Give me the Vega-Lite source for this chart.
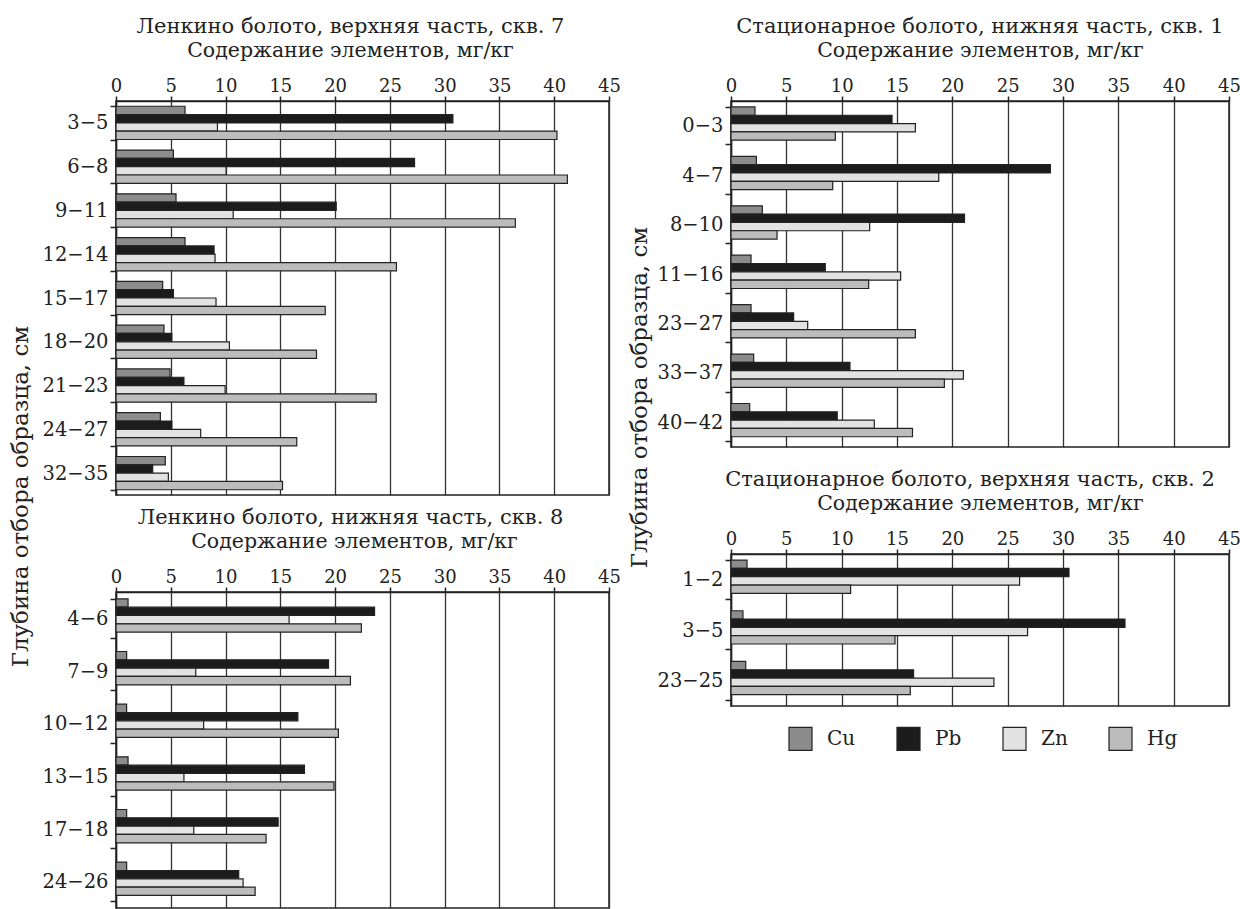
{
  "$schema": "https://vega.github.io/schema/vega-lite/v6.json",
  "padding": {"left": 8, "top": 15, "right": 0, "bottom": 0},
  "background": "white",
  "config": {
    "font": "DejaVu Serif",
    "view": {"stroke": "#222", "strokeWidth": 1.5},
    "axis": {"labelFont": "DejaVu Serif", "titleFont": "DejaVu Serif", "labelFontSize": 18, "titleFontSize": 20.5, "titleFontWeight": "normal", "labelColor": "#222", "titleColor": "#222", "domainColor": "#222", "tickColor": "#222", "gridColor": "#333", "domainWidth": 1.5, "tickWidth": 1.5, "gridWidth": 1.3, "gridOpacity": 1},
    "axisY": {"labelFontSize": 19.5, "titleFontSize": 23},
    "title": {"font": "DejaVu Serif", "fontSize": 21, "fontWeight": "normal", "color": "#222", "offset": 3}
  },
  "datasets": {
    "d": [
      {"p":"TL","d":"3−5","e":"Cu","v":6.3},{"p":"TL","d":"3−5","e":"Pb","v":30.75},{"p":"TL","d":"3−5","e":"Zn","v":9.26},{"p":"TL","d":"3−5","e":"Hg","v":40.25},
      {"p":"TL","d":"6−8","e":"Cu","v":5.24},{"p":"TL","d":"6−8","e":"Pb","v":27.25},{"p":"TL","d":"6−8","e":"Zn","v":10.05},{"p":"TL","d":"6−8","e":"Hg","v":41.2},
      {"p":"TL","d":"9−11","e":"Cu","v":5.48},{"p":"TL","d":"9−11","e":"Pb","v":20.1},{"p":"TL","d":"9−11","e":"Zn","v":10.7},{"p":"TL","d":"9−11","e":"Hg","v":36.45},
      {"p":"TL","d":"12−14","e":"Cu","v":6.3},{"p":"TL","d":"12−14","e":"Pb","v":8.95},{"p":"TL","d":"12−14","e":"Zn","v":9.04},{"p":"TL","d":"12−14","e":"Hg","v":25.6},
      {"p":"TL","d":"15−17","e":"Cu","v":4.26},{"p":"TL","d":"15−17","e":"Pb","v":5.24},{"p":"TL","d":"15−17","e":"Zn","v":9.13},{"p":"TL","d":"15−17","e":"Hg","v":19.1},
      {"p":"TL","d":"18−20","e":"Cu","v":4.38},{"p":"TL","d":"18−20","e":"Pb","v":5.1},{"p":"TL","d":"18−20","e":"Zn","v":10.35},{"p":"TL","d":"18−20","e":"Hg","v":18.3},
      {"p":"TL","d":"21−23","e":"Cu","v":4.93},{"p":"TL","d":"21−23","e":"Pb","v":6.2},{"p":"TL","d":"21−23","e":"Zn","v":9.96},{"p":"TL","d":"21−23","e":"Hg","v":23.75},
      {"p":"TL","d":"24−27","e":"Cu","v":4.05},{"p":"TL","d":"24−27","e":"Pb","v":5.1},{"p":"TL","d":"24−27","e":"Zn","v":7.73},{"p":"TL","d":"24−27","e":"Hg","v":16.5},
      {"p":"TL","d":"32−35","e":"Cu","v":4.5},{"p":"TL","d":"32−35","e":"Pb","v":3.35},{"p":"TL","d":"32−35","e":"Zn","v":4.78},{"p":"TL","d":"32−35","e":"Hg","v":15.2},
      {"p":"BL","d":"4−6","e":"Cu","v":1.1},{"p":"BL","d":"4−6","e":"Pb","v":23.6},{"p":"BL","d":"4−6","e":"Zn","v":15.8},{"p":"BL","d":"4−6","e":"Hg","v":22.4},
      {"p":"BL","d":"7−9","e":"Cu","v":0.97},{"p":"BL","d":"7−9","e":"Pb","v":19.4},{"p":"BL","d":"7−9","e":"Zn","v":7.28},{"p":"BL","d":"7−9","e":"Hg","v":21.4},
      {"p":"BL","d":"10−12","e":"Cu","v":0.97},{"p":"BL","d":"10−12","e":"Pb","v":16.6},{"p":"BL","d":"10−12","e":"Zn","v":8.0},{"p":"BL","d":"10−12","e":"Hg","v":20.3},
      {"p":"BL","d":"13−15","e":"Cu","v":1.1},{"p":"BL","d":"13−15","e":"Pb","v":17.2},{"p":"BL","d":"13−15","e":"Zn","v":6.2},{"p":"BL","d":"13−15","e":"Hg","v":19.9},
      {"p":"BL","d":"17−18","e":"Cu","v":0.97},{"p":"BL","d":"17−18","e":"Pb","v":14.8},{"p":"BL","d":"17−18","e":"Zn","v":7.1},{"p":"BL","d":"17−18","e":"Hg","v":13.7},
      {"p":"BL","d":"24−26","e":"Cu","v":0.97},{"p":"BL","d":"24−26","e":"Pb","v":11.2},{"p":"BL","d":"24−26","e":"Zn","v":11.6},{"p":"BL","d":"24−26","e":"Hg","v":12.7},
      {"p":"TR","d":"0−3","e":"Cu","v":2.17},{"p":"TR","d":"0−3","e":"Pb","v":14.55},{"p":"TR","d":"0−3","e":"Zn","v":16.66},{"p":"TR","d":"0−3","e":"Hg","v":9.43},
      {"p":"TR","d":"4−7","e":"Cu","v":2.29},{"p":"TR","d":"4−7","e":"Pb","v":28.86},{"p":"TR","d":"4−7","e":"Zn","v":18.77},{"p":"TR","d":"4−7","e":"Hg","v":9.19},
      {"p":"TR","d":"8−10","e":"Cu","v":2.83},{"p":"TR","d":"8−10","e":"Pb","v":21.1},{"p":"TR","d":"8−10","e":"Zn","v":12.53},{"p":"TR","d":"8−10","e":"Hg","v":4.16},
      {"p":"TR","d":"11−16","e":"Cu","v":1.81},{"p":"TR","d":"11−16","e":"Pb","v":8.52},{"p":"TR","d":"11−16","e":"Zn","v":15.33},{"p":"TR","d":"11−16","e":"Hg","v":12.44},
      {"p":"TR","d":"23−27","e":"Cu","v":1.81},{"p":"TR","d":"23−27","e":"Pb","v":5.66},{"p":"TR","d":"23−27","e":"Zn","v":6.93},{"p":"TR","d":"23−27","e":"Hg","v":16.66},
      {"p":"TR","d":"33−37","e":"Cu","v":2.05},{"p":"TR","d":"33−37","e":"Pb","v":10.75},{"p":"TR","d":"33−37","e":"Zn","v":21.0},{"p":"TR","d":"33−37","e":"Hg","v":19.28},
      {"p":"TR","d":"40−42","e":"Cu","v":1.69},{"p":"TR","d":"40−42","e":"Pb","v":9.6},{"p":"TR","d":"40−42","e":"Zn","v":12.95},{"p":"TR","d":"40−42","e":"Hg","v":16.4},
      {"p":"BR","d":"1−2","e":"Cu","v":1.45},{"p":"BR","d":"1−2","e":"Pb","v":30.54},{"p":"BR","d":"1−2","e":"Zn","v":26.08},{"p":"BR","d":"1−2","e":"Hg","v":10.81},
      {"p":"BR","d":"3−5","e":"Cu","v":1.08},{"p":"BR","d":"3−5","e":"Pb","v":35.6},{"p":"BR","d":"3−5","e":"Zn","v":26.8},{"p":"BR","d":"3−5","e":"Hg","v":14.82},
      {"p":"BR","d":"23−25","e":"Cu","v":1.33},{"p":"BR","d":"23−25","e":"Pb","v":16.5},{"p":"BR","d":"23−25","e":"Zn","v":23.76},{"p":"BR","d":"23−25","e":"Hg","v":16.2}
    ]
  },
  "resolve": {"scale": {"y": "independent", "fill": "independent"}, "legend": {"fill": "independent"}},
  "spacing": 5,
  "hconcat": [
    {
      "vconcat": [
        {
          "title": {"text": "Ленкино болото, верхняя часть, скв. 7", "dx": -12},
          "width": 493, "height": 394,
          "data": {"name": "d"},
          "transform": [{"filter": "datum.p == 'TL'"}],
          "mark": {"type": "bar", "stroke": "#222", "strokeWidth": 1.2},
          "encoding": {
            "x": {"field": "v", "type": "quantitative", "scale": {"domain": [0, 45], "nice": false},
              "axis": {"orient": "top", "values": [0,5,10,15,20,25,30,35,40,45], "title": "Содержание элементов, мг/кг", "grid": true, "tickSize": 5, "labelPadding": 1, "titlePadding": 17, "titleX": 234, "labelFlush": false}},
            "y": {"field": "d", "type": "nominal", "sort": null, "scale": {"paddingInner": 0.24, "paddingOuter": 0.12},
              "axis": {"title": "Глубина отбора образца, см", "titleY": 395, "titleX": -84, "tickBand": "extent", "tickSize": 6, "labelPadding": 2}},
            "yOffset": {"field": "e", "type": "nominal", "sort": ["Cu", "Pb", "Zn", "Hg"], "scale": {"paddingInner": 0, "paddingOuter": 0}},
            "fill": {"field": "e", "type": "nominal", "scale": {"domain": ["Cu", "Pb", "Zn", "Hg"], "range": ["#8c8c8c", "#1c1c1c", "#e2e2e2", "#bcbcbc"]}, "legend": null}
          }
        },
        {
          "title": {"text": "Ленкино болото, нижняя часть, скв. 8", "dx": -12},
          "width": 493, "height": 316,
          "data": {"name": "d"},
          "transform": [{"filter": "datum.p == 'BL'"}],
          "mark": {"type": "bar", "stroke": "#222", "strokeWidth": 1.2},
          "encoding": {
            "x": {"field": "v", "type": "quantitative", "scale": {"domain": [0, 45], "nice": false},
              "axis": {"orient": "top", "values": [0,5,10,15,20,25,30,35,40,45], "title": "Содержание элементов, мг/кг", "grid": true, "tickSize": 5, "labelPadding": 1, "titlePadding": 17, "titleX": 238, "labelFlush": false}},
            "y": {"field": "d", "type": "nominal", "sort": null, "scale": {"paddingInner": 0.26, "paddingOuter": 0.13},
              "axis": {"title": null, "tickBand": "extent", "tickSize": 6, "labelPadding": 2}},
            "yOffset": {"field": "e", "type": "nominal", "sort": ["Cu", "Pb", "Zn", "Hg"], "scale": {"paddingInner": 0, "paddingOuter": 0}},
            "fill": {"field": "e", "type": "nominal", "scale": {"domain": ["Cu", "Pb", "Zn", "Hg"], "range": ["#8c8c8c", "#1c1c1c", "#e2e2e2", "#bcbcbc"]}, "legend": null}
          }
        }
      ],
      "spacing": 97,
      "bounds": "flush",
      "resolve": {"scale": {"y": "independent", "fill": "independent"}, "legend": {"fill": "independent"}}
    },
    {
      "vconcat": [
        {
          "title": {"text": "Стационарное болото, нижняя часть, скв. 1"},
          "width": 498, "height": 346,
          "data": {"name": "d"},
          "transform": [{"filter": "datum.p == 'TR'"}],
          "mark": {"type": "bar", "stroke": "#222", "strokeWidth": 1.2},
          "encoding": {
            "x": {"field": "v", "type": "quantitative", "scale": {"domain": [0, 45], "nice": false},
              "axis": {"orient": "top", "values": [0,5,10,15,20,25,30,35,40,45], "title": "Содержание элементов, мг/кг", "grid": true, "tickSize": 5, "labelPadding": 1, "titlePadding": 17, "labelFlush": false}},
            "y": {"field": "d", "type": "nominal", "sort": null, "scale": {"paddingInner": 0.24, "paddingOuter": 0.12},
              "axis": {"title": "Глубина отбора образца, см", "titleY": 296, "titleX": -80, "tickBand": "extent", "tickSize": 6, "labelPadding": 2}},
            "yOffset": {"field": "e", "type": "nominal", "sort": ["Cu", "Pb", "Zn", "Hg"], "scale": {"paddingInner": 0, "paddingOuter": 0}},
            "fill": {"field": "e", "type": "nominal", "scale": {"domain": ["Cu", "Pb", "Zn", "Hg"], "range": ["#8c8c8c", "#1c1c1c", "#e2e2e2", "#bcbcbc"]}, "legend": null}
          }
        },
        {
          "title": {"text": "Стационарное болото, верхняя часть, скв. 2", "dx": -10},
          "width": 498, "height": 152,
          "data": {"name": "d"},
          "transform": [{"filter": "datum.p == 'BR'"}],
          "mark": {"type": "bar", "stroke": "#222", "strokeWidth": 1.2},
          "encoding": {
            "x": {"field": "v", "type": "quantitative", "scale": {"domain": [0, 45], "nice": false},
              "axis": {"orient": "top", "values": [0,5,10,15,20,25,30,35,40,45], "title": "Содержание элементов, мг/кг", "grid": true, "tickSize": 5, "labelPadding": 1, "titlePadding": 17, "labelFlush": false}},
            "y": {"field": "d", "type": "nominal", "sort": null, "scale": {"paddingInner": 0.24, "paddingOuter": 0.12},
              "axis": {"title": null, "tickBand": "extent", "tickSize": 6, "labelPadding": 2}},
            "yOffset": {"field": "e", "type": "nominal", "sort": ["Cu", "Pb", "Zn", "Hg"], "scale": {"paddingInner": 0, "paddingOuter": 0}},
            "fill": {"field": "e", "type": "nominal", "scale": {"domain": ["Cu", "Pb", "Zn", "Hg"], "range": ["#8c8c8c", "#1c1c1c", "#e2e2e2", "#bcbcbc"]},
              "legend": {"orient": "none", "legendX": 57, "legendY": 172, "direction": "horizontal", "title": null, "symbolType": "square", "symbolSize": 529, "symbolStrokeColor": "#222", "symbolStrokeWidth": 1.2, "labelFont": "DejaVu Serif", "labelFontSize": 20, "labelColor": "#222", "labelOffset": 14, "columnPadding": 38}}
          }
        }
      ],
      "spacing": 107,
      "bounds": "flush",
      "resolve": {"scale": {"y": "independent", "fill": "independent"}, "legend": {"fill": "independent"}}
    }
  ]
}
